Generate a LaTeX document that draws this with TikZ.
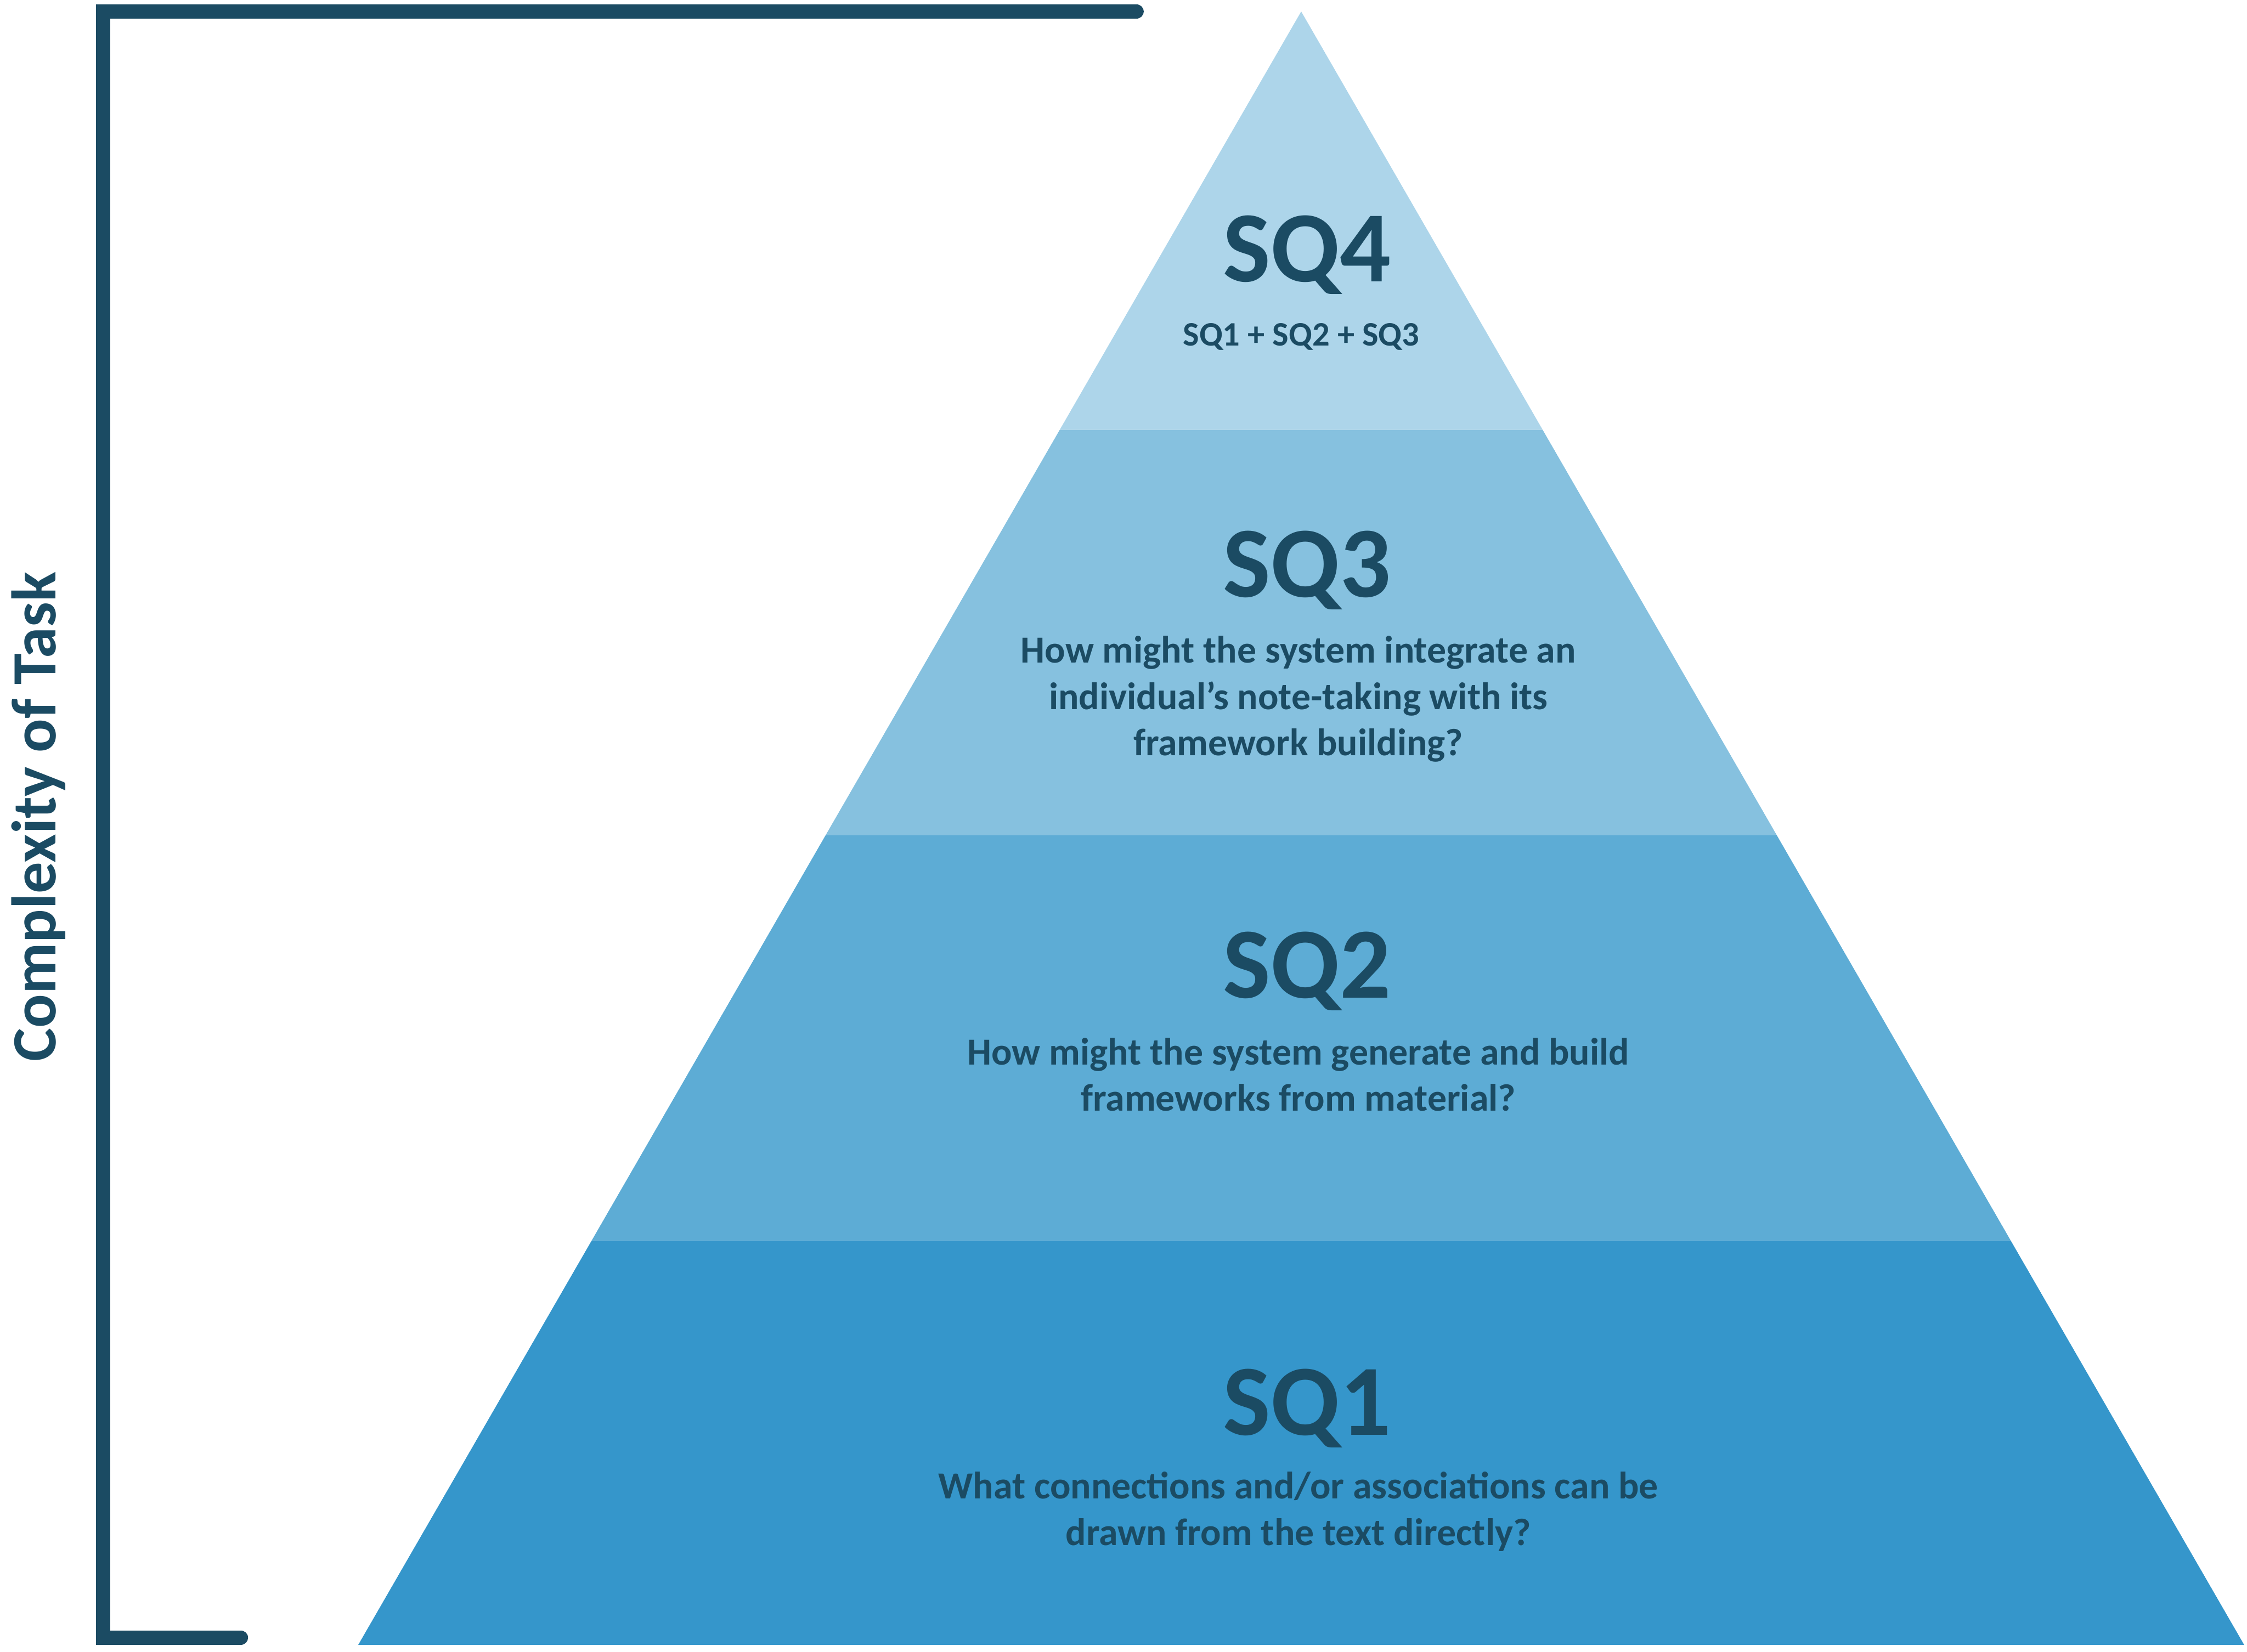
\documentclass[tikz,border=0pt]{standalone}
\usepackage{fontspec}
\setmainfont{Carlito}
\definecolor{ink}{HTML}{1B4B63}
\definecolor{bandA}{HTML}{ADD5EA}
\definecolor{bandB}{HTML}{86C1DF}
\definecolor{bandC}{HTML}{5DACD5}
\definecolor{bandD}{HTML}{3596CB}
\tikzset{font=\bfseries}
\tikzstyle{title}=[text=ink,font=\fontsize{20}{22}\selectfont\bfseries]
\tikzstyle{body}=[text=ink,align=center,font=\fontsize{7.6}{9.2}\selectfont\bfseries]
\tikzstyle{bracket}=[line width=2.9pt,draw=ink,line cap=round,line join=miter]

\begin{document}
\begin{tikzpicture}[x=0.01cm,y=-0.01cm]
	\useasboundingbox (0,0) rectangle (1568,1153);
	\coordinate (apex) at (908, 8);
	\coordinate (l1) at (739.5, 300);
	\coordinate (r1) at (1076.5, 300);
	\coordinate (l2) at (576.1, 583);
	\coordinate (r2) at (1239.9, 583);
	\coordinate (l3) at (412.8, 866);
	\coordinate (r3) at (1403.2, 866);
	\coordinate (l4) at (250, 1148);
	\coordinate (r4) at (1566, 1148);
	\fill[bandA] (apex) -- (r1) -- (l1) -- cycle;
	\fill[bandB] (l1) -- (r1) -- (r2) -- (l2) -- cycle;
	\fill[bandC] (l2) -- (r2) -- (r3) -- (l3) -- cycle;
	\fill[bandD] (l3) -- (r3) -- (r4) -- (l4) -- cycle;
	\coordinate (b0) at (793, 8);
	\coordinate (b1) at (72, 8);
	\coordinate (b2) at (72, 1143);
	\coordinate (b3) at (168, 1143);
	\draw[bracket] (b0) -- (b1) -- (b2) -- (b3);
	\node [text=ink,rotate=90,font=\fontsize{12.5}{14}\selectfont\bfseries] (axis) at (27, 570) {Complexity of Task};
	\node [style=title] (sq4) at (912, 178) {SQ4};
	\node [style=body,font=\fontsize{6.8}{8}\selectfont\bfseries] (sq4t) at (908, 235) {SQ1 + SQ2 + SQ3};
	\node [style=title] (sq3) at (912, 398) {SQ3};
	\node [style=body] (sq3t) at (906, 488) {How might the system integrate an\\individual’s note-taking with its\\framework building?};
	\node [style=title] (sq2) at (912, 678) {SQ2};
	\node [style=body] (sq2t) at (906, 750) {How might the system generate and build\\frameworks from material?};
	\node [style=title] (sq1) at (912, 983) {SQ1};
	\node [style=body] (sq1t) at (906, 1055) {What connections and/or associations can be\\drawn from the text directly?};
\end{tikzpicture}
\end{document}
